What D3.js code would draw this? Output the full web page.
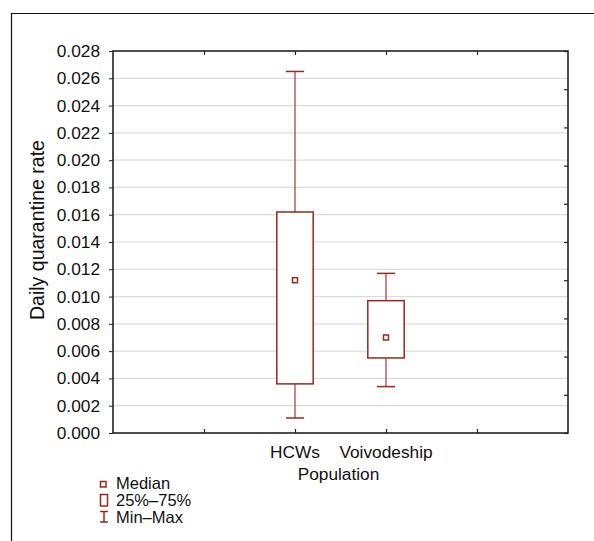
<!DOCTYPE html>
<html>
<head>
<meta charset="utf-8">
<script src="https://cdn.jsdelivr.net/npm/d3@7"></script>
<style>
  html, body { margin: 0; padding: 0; background: #fff; }
  svg { display: block; font-family: "Liberation Sans", Arial, sans-serif; }
</style>
</head>
<body>
<svg id="chart" width="594" height="541"></svg>
<script>
// Box-plot summary per population group
const categories = ["HCWs", "Voivodeship"];
const minValues    = [0.0011, 0.0034];
const q1Values     = [0.0036, 0.0055];
const medianValues = [0.0112, 0.0070];
const q3Values     = [0.0162, 0.0097];
const maxValues    = [0.0265, 0.0117];

const yTicks = d3.range(0, 0.0281, 0.002);
const legendItems = ["Median", "25%\u201375%", "Min\u2013Max"];

const svg = d3.select("#chart");
const dark = "#962a1f";

const plot = { left: 113, right: 568, top: 51, bottom: 433 };

// Category slots 1..4 on a 0..5 axis; groups sit at slots 2 and 3
const x = d3.scaleLinear().domain([0, 5]).range([plot.left, plot.right]);
const catPos = c => 2 + categories.indexOf(c);
const y = d3.scaleLinear().domain([0, 0.028]).range([plot.bottom, plot.top]);

// outer panel border (top and left edges)
svg.append("path")
  .attr("d", `M11.5,541 V13.5 H594`)
  .attr("fill", "none").attr("stroke", "#111").attr("stroke-width", 1.2);

// horizontal grid
svg.append("g").selectAll("line").data(yTicks.slice(1, -1)).join("line")
  .attr("x1", plot.left).attr("x2", plot.right)
  .attr("y1", d => y(d)).attr("y2", d => y(d))
  .attr("stroke", "#dcdcdc").attr("stroke-width", 1.2);

// left axis with labels
const yAxis = d3.axisLeft(y).tickValues(yTicks).tickFormat(d3.format(".3f"))
  .tickSizeInner(4).tickSizeOuter(0).tickPadding(9);
const gy = svg.append("g").attr("transform", `translate(${plot.left},0)`).call(yAxis);
gy.select(".domain").remove();
gy.selectAll("text").attr("font-size", 17.3).attr("fill", "#111")
  .attr("font-family", "Liberation Sans, Arial, sans-serif");
gy.selectAll("line").attr("stroke", "#222");

// right axis: inward ticks, ten divisions
const rAxis = d3.axisRight(y).tickValues(d3.range(0, 11).map(i => i * 0.0028))
  .tickSizeInner(-4).tickSizeOuter(0).tickFormat("");
const gr = svg.append("g").attr("transform", `translate(${plot.right},0)`).call(rAxis);
gr.select(".domain").remove();
gr.selectAll("line").attr("stroke", "#222").attr("stroke-width", 1.2);

// bottom axis: inward ticks at category slots
const bAxis = d3.axisBottom(x).tickValues([1, 2, 3, 4]).tickSizeInner(-4).tickSizeOuter(0).tickFormat("");
const gb = svg.append("g").attr("transform", `translate(0,${plot.bottom})`).call(bAxis);
gb.select(".domain").remove();
gb.selectAll("line").attr("stroke", "#222").attr("stroke-width", 1.2);

// top axis: inward ticks
const tAxis = d3.axisTop(x).tickValues([1, 2, 3, 4]).tickSizeInner(-4).tickSizeOuter(0).tickFormat("");
const gt = svg.append("g").attr("transform", `translate(0,${plot.top})`).call(tAxis);
gt.select(".domain").remove();
gt.selectAll("line").attr("stroke", "#222").attr("stroke-width", 1.2);

// plot frame
svg.append("rect")
  .attr("x", plot.left).attr("y", plot.top)
  .attr("width", plot.right - plot.left).attr("height", plot.bottom - plot.top)
  .attr("fill", "none").attr("stroke", "#222").attr("stroke-width", 1.6);

// category labels
svg.append("g").selectAll("text").data(categories).join("text")
  .attr("x", d => x(catPos(d))).attr("y", 458)
  .attr("text-anchor", "middle").attr("font-size", 17.3).attr("fill", "#111")
  .text(d => d);

// axis titles
svg.append("text").attr("x", (plot.left + plot.right) / 2 - 2).attr("y", 480)
  .attr("text-anchor", "middle").attr("font-size", 17.3).attr("fill", "#111")
  .text("Population");
svg.append("text")
  .attr("transform", `translate(44,230) rotate(-90)`)
  .attr("text-anchor", "middle").attr("font-size", 19.5).attr("fill", "#111")
  .text("Daily quarantine rate");

// boxes and whiskers
const boxW = x(0.4) - x(0);
const capW = x(0.2) - x(0);
const groups = svg.append("g").selectAll("g").data(categories).join("g");
groups.each(function (c, i) {
  const g = d3.select(this);
  const cx = x(catPos(c));
  // whiskers
  g.append("line").attr("x1", cx).attr("x2", cx)
    .attr("y1", y(maxValues[i])).attr("y2", y(q3Values[i]))
    .attr("stroke", dark).attr("stroke-width", 1.1);
  g.append("line").attr("x1", cx).attr("x2", cx)
    .attr("y1", y(q1Values[i])).attr("y2", y(minValues[i]))
    .attr("stroke", dark).attr("stroke-width", 1.1);
  // caps
  [maxValues[i], minValues[i]].forEach(v => {
    g.append("line").attr("x1", cx - capW / 2).attr("x2", cx + capW / 2)
      .attr("y1", y(v)).attr("y2", y(v))
      .attr("stroke", dark).attr("stroke-width", 1.5);
  });
  // interquartile box
  g.append("rect")
    .attr("x", cx - boxW / 2).attr("y", y(q3Values[i]))
    .attr("width", boxW).attr("height", y(q1Values[i]) - y(q3Values[i]))
    .attr("fill", "#fff").attr("stroke", dark).attr("stroke-width", 1.5);
  // median marker
  g.append("rect")
    .attr("x", cx - 2.5).attr("y", y(medianValues[i]) - 2.5)
    .attr("width", 5).attr("height", 5)
    .attr("fill", "#fff").attr("stroke", dark).attr("stroke-width", 1.5);
});

// legend
const lg = svg.append("g");
const rowY = [489, 506, 523];
lg.selectAll("text").data(legendItems).join("text")
  .attr("x", 116).attr("y", (d, i) => rowY[i])
  .attr("font-size", 16.5).attr("fill", "#111").text(d => d);
lg.append("rect").attr("x", 100.5).attr("y", 481.5).attr("width", 5.5).attr("height", 5.5)
  .attr("fill", "#fff").attr("stroke", dark).attr("stroke-width", 1.5);
lg.append("rect").attr("x", 100.5).attr("y", 494.5).attr("width", 7).attr("height", 11.5)
  .attr("fill", "#fff").attr("stroke", dark).attr("stroke-width", 1.5);
lg.append("path").attr("d", "M100,511.5 H108 M104,511.5 V522 M100,522 H108")
  .attr("fill", "none").attr("stroke", dark).attr("stroke-width", 1.5);
</script>
</body>
</html>
